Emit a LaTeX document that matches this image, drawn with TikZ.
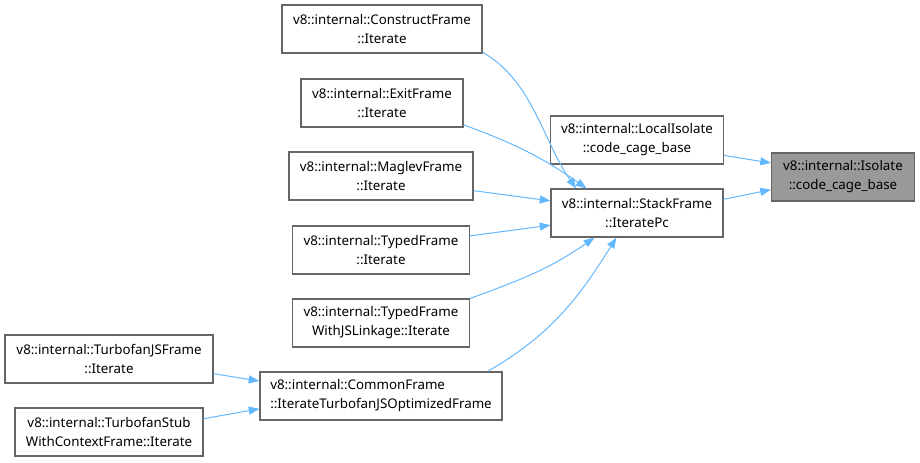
\documentclass[tikz,border=0pt]{standalone}
\usepackage{fontspec}
\setmainfont{Noto Sans}
\usepackage{xcolor}
\definecolor{edgeblue}{HTML}{63B8FF}
\definecolor{boxgray}{HTML}{666666}
\definecolor{focusgray}{HTML}{999999}
\usetikzlibrary{arrows.meta}

\begin{document}
\begin{tikzpicture}[
  x=0.75pt,y=-0.75pt,
  every node/.style={font=\fontsize{10}{14.25}\selectfont},
  fnbox/.style={draw=boxgray,fill=white,line width=0.9pt,minimum height=36pt,
                align=center,inner sep=3pt},
  call/.style={-{Triangle[length=8pt,width=6pt]},draw=edgeblue,line width=0.75pt},
]
  \useasboundingbox (0,0) rectangle (920,462);

  % Callee
  \node[fnbox,fill=focusgray,minimum width=107.25pt] (isolate) at (843,177)
    {v8::internal::Isolate\\::code\_cage\_base};

  % Direct callers
  \node[fnbox,minimum width=129.75pt] (localiso) at (637,140)
    {v8::internal::LocalIsolate\\::code\_cage\_base};
  \node[fnbox,minimum width=129pt] (stackframe) at (637,213)
    {v8::internal::StackFrame\\::IteratePc};

  % Callers of StackFrame::IteratePc
  \node[fnbox,minimum width=150pt] (construct) at (382,29)
    {v8::internal::ConstructFrame\\::Iterate};
  \node[fnbox,minimum width=121.5pt] (exitframe) at (382,103)
    {v8::internal::ExitFrame\\::Iterate};
  \node[fnbox,minimum width=138pt] (maglev) at (381,176)
    {v8::internal::MaglevFrame\\::Iterate};
  \node[fnbox,minimum width=132.75pt] (typed) at (381,250)
    {v8::internal::TypedFrame\\::Iterate};
  \node[fnbox,minimum width=132.75pt] (typedjs) at (381,323)
    {v8::internal::TypedFrame\\WithJSLinkage::Iterate};
  \node[fnbox,minimum width=181.5pt,align=left] (common) at (381,396)
    {v8::internal::CommonFrame\\::IterateTurbofanJSOptimizedFrame};

  % Callers of CommonFrame
  \node[fnbox,minimum width=156pt] (turbojs) at (109,359)
    {v8::internal::TurbofanJSFrame\\::Iterate};
  \node[fnbox,minimum width=141pt] (turbostub) at (109,432)
    {v8::internal::TurbofanStub\\WithContextFrame::Iterate};

  % Call edges
  \draw[call] (localiso.-10) -- (isolate.169);
  \draw[call] (stackframe.9) -- (isolate.190);
  \draw[call] (construct.-13) to[out=-30,in=125,looseness=0.9] (stackframe.158);
  \draw[call] (exitframe.-15) to[out=-20,in=145] (stackframe.154);
  \draw[call] (maglev.-9) -- (stackframe.172);
  \draw[call] (typed.9) -- (stackframe.188);
  \draw[call] (typedjs.north east) to[out=20,in=215] (stackframe.210);
  \draw[call] (common.13.6) to[out=30,in=238] (stackframe.230);
  \draw[call] (turbojs.-8) -- (common.173);
  \draw[call] (turbostub.8) -- (common.186);
\end{tikzpicture}
\end{document}
